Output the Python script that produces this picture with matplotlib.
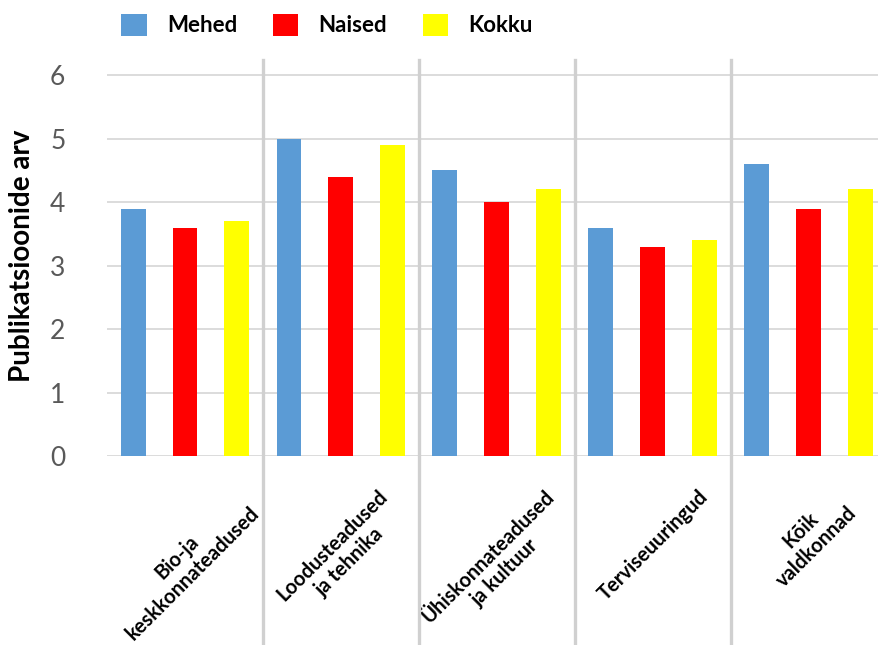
import numpy as np
import matplotlib
matplotlib.use('Agg')
import matplotlib.pyplot as plt
from matplotlib.patches import Patch

plt.rcParams['font.family'] = ['Lato', 'DejaVu Sans']

categories = ['Bio-ja\nkeskkonnateadused', 'Loodusteadused\nja tehnika',
              'Ühiskonnateadused\nja kultuur', 'Terviseuuringud', 'Kõik\nvaldkonnad']
series_names = ['Mehed', 'Naised', 'Kokku']
mehed = [3.9, 5.0, 4.5, 3.6, 4.6]
naised = [3.6, 4.4, 4.0, 3.3, 3.9]
kokku = [3.7, 4.9, 4.2, 3.4, 4.2]
yticks = [0, 1, 2, 3, 4, 5, 6]

colors = ['#5B9BD5', '#FF0000', '#FFFF00']
grid_col = '#D9D9D9'

fig = plt.figure(figsize=(8.79, 6.45), dpi=100)
ax = fig.add_axes([107/879, (645-456)/645, 1-107/879, (456-60)/645])

x = np.arange(len(categories))
bw = 0.16
off = 0.333
for k, vals in enumerate([mehed, naised, kokku]):
    ax.bar(x + (k-1)*off, vals, width=bw, color=colors[k], zorder=3)

ax.set_xlim(-0.5, 4.45)
ax.set_ylim(0, 6.24)
ax.set_yticks(yticks)
ax.set_yticklabels([str(v) for v in yticks], fontsize=19, color='#595959')
for v in yticks:
    ax.axhline(v, color=grid_col, lw=1.3, zorder=1)

# group separators, running below the axis
for b in x[:-1] + 0.5:
    ax.axvline(b, ymin=-0.48, ymax=1, color='#D0D0D0', lw=2.4, clip_on=False, zorder=2)

ax.set_xticks(x)
ax.set_xticklabels(categories, rotation=45, ha='center', va='top', multialignment='center',
                   fontsize=14.5, fontweight='bold')
ax.tick_params(axis='both', length=0)
ax.tick_params(axis='y', pad=30)
ax.tick_params(axis='x', pad=22)
for s in ax.spines.values():
    s.set_visible(False)

fig.text(22/879, 1-256/645, 'Publikatsioonide arv', rotation=90, ha='center', va='center',
         fontsize=20, fontweight='bold')

handles = [Patch(facecolor=c, edgecolor='none') for c in colors]
fig.legend(handles, series_names, loc='center', bbox_to_anchor=(327/879, 1-25/645), ncol=3,
           frameon=False, prop={'weight': 'bold', 'size': 16}, handlelength=1.15, handleheight=1.15,
           handletextpad=0.9, columnspacing=1.6)

fig.savefig('out.png', dpi=100)
